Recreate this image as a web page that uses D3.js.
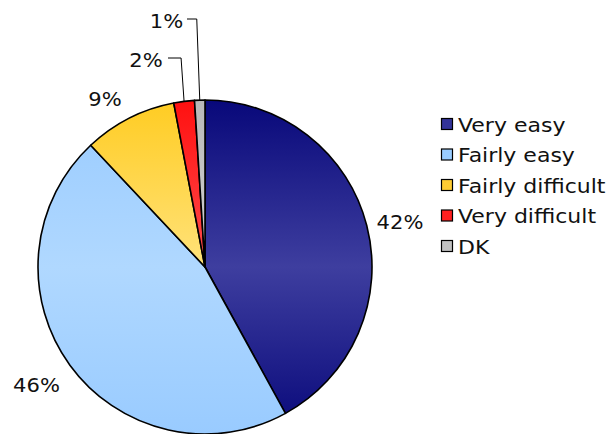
<!DOCTYPE html>
<html><head><meta charset="utf-8">
<script src="https://cdn.jsdelivr.net/npm/d3@7"></script>
<style>body{margin:0;background:#fff}text{font-family:"DejaVu Sans",Verdana,sans-serif}</style>
</head><body>
<svg id="c" width="610" height="434"></svg>
<script>
const categories = ["Very easy","Fairly easy","Fairly difficult","Very difficult","DK"];
const values = [42,46,9,2,1];
const labels = ["42%","46%","9%","2%","1%"];
const edgeColors = ["#08087a","#99cbff","#ffcc22","#ff1010","#b8b8b8"];
const midColors = ["#3e3e9f","#b0d8ff","#ffe27a","#ff4c4c","#d2d2d2"];
const legendColors = ["#333399","#99ccff","#ffcc33","#ff2020","#c0c0c0"];

const svg = d3.select("#c");
const cx = 205, cy = 267, r = 167;
const defs = svg.append("defs");
categories.forEach((c,i)=>{
  const g = defs.append("linearGradient").attr("id","g"+i)
    .attr("gradientUnits","userSpaceOnUse").attr("x1",0).attr("x2",0)
    .attr("y1",-r).attr("y2",r);
  g.append("stop").attr("offset",0).attr("stop-color",edgeColors[i]);
  g.append("stop").attr("offset",0.5).attr("stop-color",midColors[i]);
  g.append("stop").attr("offset",1).attr("stop-color",edgeColors[i]);
});
const pie = d3.pie().sort(null).value(d=>d)(values);
const arc = d3.arc().innerRadius(0).outerRadius(r);
const gp = svg.append("g").attr("transform",`translate(${cx},${cy})`);
gp.selectAll("path").data(pie).join("path")
  .attr("d",arc).attr("fill",(d,i)=>`url(#g${i})`)
  .attr("stroke","#000").attr("stroke-width",1.6).attr("stroke-linejoin","round");

// labels
const labelPos = [[400,229],[36.5,392],[105,106],[146,67],[166.5,28]];
svg.selectAll("text.pl").data(labels).join("text").attr("class","pl")
  .attr("transform",(d,i)=>`translate(${labelPos[i][0]},${labelPos[i][1]}) scale(1.08,1)`)
  .attr("text-anchor","middle").attr("font-size",19.5).attr("fill","#111").text(d=>d);
// leader lines for small slices
const leaders = [[3,168,58],[4,187,19]];
leaders.forEach(([i,x0,y0])=>{
  const a = (pie[i].startAngle+pie[i].endAngle)/2;
  const px = cx + r*Math.sin(a), py = cy - r*Math.cos(a);
  svg.append("polyline").attr("points",`${x0},${y0} ${px-3},${y0} ${px},${py}`)
    .attr("fill","none").attr("stroke","#000").attr("stroke-width",1);
});

// legend
const lg = svg.append("g");
categories.forEach((c,i)=>{
  const y = 125 + i*30.5;
  lg.append("rect").attr("x",441.5).attr("y",y-6.5).attr("width",11).attr("height",11)
    .attr("fill",legendColors[i]).attr("stroke","#000").attr("stroke-width",1.2);
  lg.append("text").attr("transform",`translate(458,${y+6.5}) scale(1.1,1)`)
    .attr("font-size",20).attr("fill","#111").text(c);
});
</script>
</body></html>
